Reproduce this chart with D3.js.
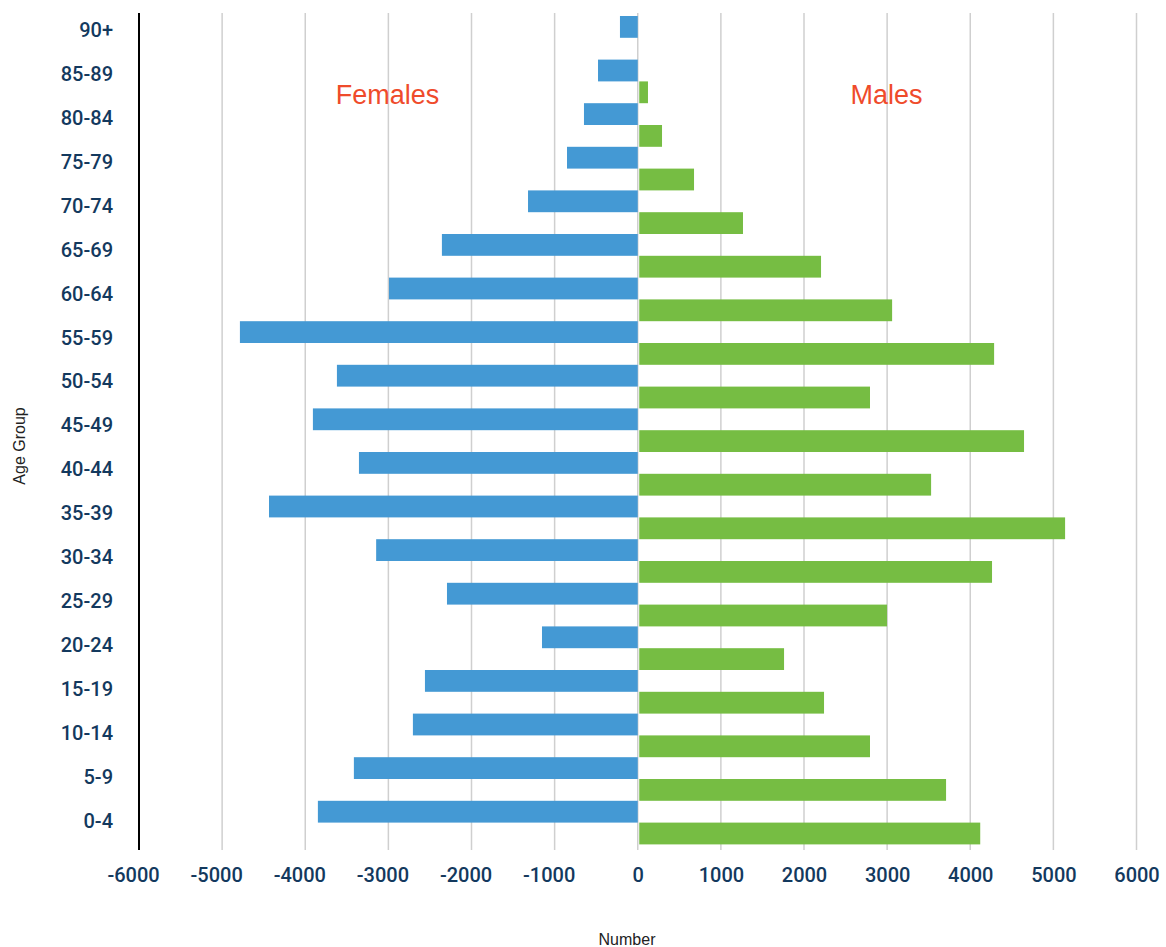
<!DOCTYPE html>
<html>
<head>
<meta charset="utf-8">
<script src="https://cdn.jsdelivr.net/npm/d3@7"></script>
<style>
  html, body { margin: 0; padding: 0; background: #fff; }
  svg { display: block; }
</style>
</head>
<body>
<svg id="chart" width="1166" height="947"></svg>
<script>
// ---- data ----
const ageGroups = ["90+","85-89","80-84","75-79","70-74","65-69","60-64","55-59","50-54","45-49",
                   "40-44","35-39","30-34","25-29","20-24","15-19","10-14","5-9","0-4"];
const females = [-214,-478,-647,-851,-1320,-2356,-2993,-4786,-3619,-3908,
                 -3354,-4436,-3147,-2295,-1152,-2560,-2705,-3415,-3848];
const males   = [0,123,292,677,1266,2205,3060,4287,2794,4647,
                 3529,5141,4262,2999,1760,2241,2794,3709,4120];
const xTicks = [-6000,-5000,-4000,-3000,-2000,-1000,0,1000,2000,3000,4000,5000,6000];
const seriesLabels = ["Females","Males"];

// ---- layout ----
const svg = d3.select("#chart");
const plotTop = 13, plotBottom = 850;
const x = d3.scaleLinear().domain([-6000, 6000]).range([139, 1136.5]);
const yBand = d3.scaleBand().domain(ageGroups).range([16, 16 + 43.6 * ageGroups.length]).padding(0);
const yLabel = d3.scalePoint().domain(ageGroups).range([29.7, 820]);
const half = yBand.bandwidth() / 2;

const labelFont = "Roboto, 'Liberation Sans', Arial, sans-serif";
const navy = "#13395e";

// gridlines
svg.append("g").selectAll("line")
  .data(xTicks.filter(d => d !== -6000))
  .join("line")
  .attr("x1", d => x(d)).attr("x2", d => x(d))
  .attr("y1", plotTop).attr("y2", plotBottom)
  .attr("stroke", "#cfcfcf").attr("stroke-width", 1.5);

// bars
svg.append("g").selectAll("rect")
  .data(ageGroups.map((g, i) => ({g, v: females[i]})))
  .join("rect")
  .attr("x", d => x(d.v)).attr("width", d => x(0) - x(d.v))
  .attr("y", d => yBand(d.g)).attr("height", half)
  .attr("fill", "#4499d4");

svg.append("g").selectAll("rect")
  .data(ageGroups.map((g, i) => ({g, v: males[i]})))
  .join("rect")
  .attr("x", d => x(0) + 1.5).attr("width", d => Math.max(0, x(d.v) - x(0) - 1.5))
  .attr("y", d => yBand(d.g) + half).attr("height", half)
  .attr("fill", "#76bd43");

// y axis (black line + labels)
const yAxis = d3.axisLeft(yLabel).tickSize(0).tickPadding(0);
const gy = svg.append("g").attr("transform", "translate(113,0)").call(yAxis);
gy.select(".domain").remove();
gy.selectAll("text")
  .attr("font-family", labelFont).attr("font-size", 20).attr("font-weight", 500)
  .attr("fill", navy).attr("dy", "0.35em");

svg.append("line")
  .attr("x1", x(-6000)).attr("x2", x(-6000))
  .attr("y1", plotTop).attr("y2", plotBottom)
  .attr("stroke", "#000").attr("stroke-width", 2);

// x axis labels
const xAxis = d3.axisBottom(x).tickValues(xTicks).tickSize(0).tickPadding(0)
  .tickFormat(d => d < 0 ? "-" + Math.abs(d) : String(d));
const gx = svg.append("g").attr("transform", "translate(0,875)").call(xAxis);
gx.select(".domain").remove();
gx.selectAll("text")
  .attr("font-family", labelFont).attr("font-size", 20).attr("font-weight", 500)
  .attr("fill", navy).attr("dy", "0.35em")
  .attr("dx", d => d < 0 ? -6 : 0);

// axis titles
svg.append("text")
  .attr("x", 627).attr("y", 945)
  .attr("text-anchor", "middle")
  .attr("font-family", "'Liberation Sans', Arial, sans-serif").attr("font-size", 16)
  .attr("fill", "#222").text("Number");

svg.append("text")
  .attr("transform", "translate(25,446) rotate(-90)")
  .attr("text-anchor", "middle")
  .attr("font-family", "'Liberation Sans', Arial, sans-serif").attr("font-size", 16)
  .attr("fill", "#222").text("Age Group");

// series annotations
svg.append("text")
  .attr("x", 387.5).attr("y", 104).attr("text-anchor", "middle")
  .attr("font-family", "'Liberation Sans', Arial, sans-serif").attr("font-size", 27)
  .attr("fill", "#ef4b2b").text(seriesLabels[0]);
svg.append("text")
  .attr("x", 886.5).attr("y", 104).attr("text-anchor", "middle")
  .attr("font-family", "'Liberation Sans', Arial, sans-serif").attr("font-size", 27)
  .attr("fill", "#ef4b2b").text(seriesLabels[1]);
</script>
</body>
</html>
